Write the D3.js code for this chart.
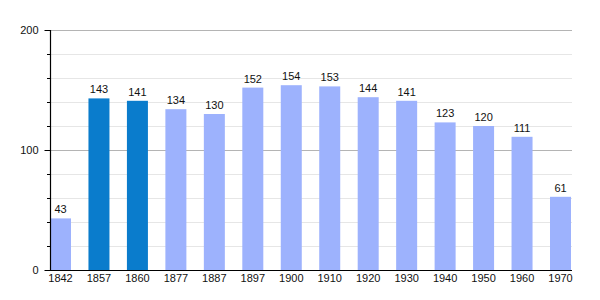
<!DOCTYPE html>
<html>
<head>
<meta charset="utf-8">
<script src="https://cdn.jsdelivr.net/npm/d3@7"></script>
<style>
  body { margin: 0; background: #fff; }
  text { font-family: "Liberation Sans", Arial, sans-serif; fill: #111; }
</style>
</head>
<body>
<svg></svg>
<script>
"use strict";

var years = ["1842", "1857", "1860", "1877", "1887", "1897", "1900", "1910", "1920", "1930", "1940", "1950", "1960", "1970"];
var population = [43, 143, 141, 134, 130, 152, 154, 153, 144, 141, 123, 120, 111, 61];
var highlighted = ["1857", "1860"];
var yTicks = [0, 100, 200];

var width = 600,
    height = 300;

var svg = d3.select("svg")
    .attr("width", width)
    .attr("height", height);

var x = d3.scaleBand()
    .domain(years)
    .range([50, 571])
    .paddingInner(0.454)
    .paddingOuter(0);

var y = d3.scaleLinear()
    .domain([0, 200])
    .range([270, 30]);

// gridlines, every 20, darker at each 100
var gridVals = d3.range(20, 201, 20);
svg.append("g")
    .selectAll("line")
    .data(gridVals)
    .enter()
    .append("line")
    .attr("x1", 50)
    .attr("x2", 572)
    .attr("y1", function (d) { return y(d) + 0.5; })
    .attr("y2", function (d) { return y(d) + 0.5; })
    .attr("stroke", function (d) { return d % 100 === 0 ? "#b4b4b4" : "#e6e6e6"; })
    .attr("stroke-width", 1);

// bars
svg.append("g")
    .selectAll("rect")
    .data(years)
    .enter()
    .append("rect")
    .attr("x", function (d) { return x(d); })
    .attr("width", x.bandwidth())
    .attr("y", function (d, i) { return y(population[i]); })
    .attr("height", function (d, i) { return y(0) - y(population[i]); })
    .attr("fill", function (d) { return highlighted.indexOf(d) >= 0 ? "#0a7ccc" : "#9db2fd"; });

// value labels
svg.append("g")
    .selectAll("text")
    .data(years)
    .enter()
    .append("text")
    .attr("x", function (d) { return x(d) + x.bandwidth() / 2; })
    .attr("y", function (d, i) { return y(population[i]) - 5; })
    .attr("text-anchor", "middle")
    .style("font-size", "11px")
    .text(function (d, i) { return population[i]; });

// y axis: major ticks with labels, minor ticks every 20
var yAxis = svg.append("g")
    .attr("transform", "translate(50.5,0)")
    .call(d3.axisLeft(y).tickValues(yTicks).tickSize(6).tickPadding(6).tickFormat(d3.format("d")));
yAxis.select(".domain").remove();
yAxis.selectAll("line").attr("stroke", "#000");
yAxis.selectAll("text").style("font-size", "11px").style("font-family", "Liberation Sans, Arial, sans-serif");

svg.append("g")
    .selectAll("line")
    .data(gridVals.filter(function (d) { return d % 100 !== 0; }))
    .enter()
    .append("line")
    .attr("x1", 47)
    .attr("x2", 50)
    .attr("y1", function (d) { return y(d) + 0.5; })
    .attr("y2", function (d) { return y(d) + 0.5; })
    .attr("stroke", "#000");

svg.append("line")
    .attr("x1", 50.5)
    .attr("x2", 50.5)
    .attr("y1", y(200))
    .attr("y2", y(0) + 1)
    .attr("stroke", "#000")
    .attr("stroke-width", 1.2);

// x axis
var xAxis = svg.append("g")
    .attr("transform", "translate(0," + (y(0) + 0.5) + ")")
    .call(d3.axisBottom(x).tickSize(0).tickPadding(4));
xAxis.select(".domain").attr("d", "M45,0H572").attr("stroke", "#000").attr("stroke-width", 1.2);
xAxis.selectAll("text").style("font-size", "11px").style("font-family", "Liberation Sans, Arial, sans-serif");
</script>
</body>
</html>
